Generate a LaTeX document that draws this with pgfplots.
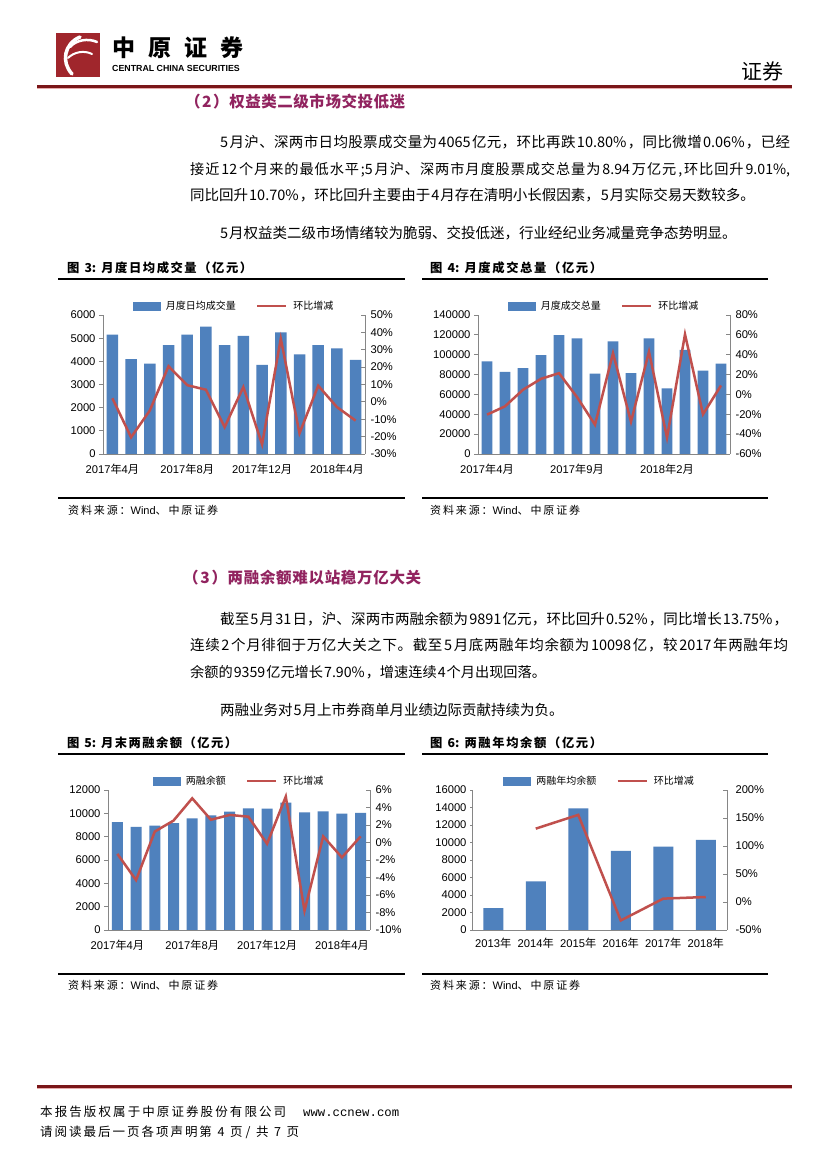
\documentclass[border=0pt]{standalone}
\usepackage{fontspec}
\setmainfont{Noto Sans CJK SC}
\newfontfamily\cjk{Noto Sans CJK SC}
\newfontfamily\lib{Liberation Sans}
\newfontfamily\libmono{Liberation Mono}
\usepackage{pgfplots}
\pgfplotsset{compat=1.18}
\definecolor{barblue}{RGB}{79,129,189}
\definecolor{linered}{RGB}{192,80,77}
\definecolor{axgrey}{RGB}{134,134,134}
\definecolor{hdrred}{RGB}{122,22,24}
\definecolor{hdrpink}{RGB}{230,170,170}
\definecolor{logored}{RGB}{160,38,44}
\definecolor{sectc}{RGB}{145,35,95}
\newXeTeXintercharclass\mycjkclass
\newcount\mycc
\mycc="4E00 \loop \XeTeXcharclass\mycc=\mycjkclass \advance\mycc 1 \ifnum\mycc<"A000 \repeat
\mycc="3000 \loop \XeTeXcharclass\mycc=\mycjkclass \advance\mycc 1 \ifnum\mycc<"3040 \repeat
\mycc="FF00 \loop \XeTeXcharclass\mycc=\mycjkclass \advance\mycc 1 \ifnum\mycc<"FFF0 \repeat
\XeTeXinterchartoks 0 \mycjkclass = {\hskip 1bp plus 1pt\relax}
\XeTeXinterchartoks \mycjkclass 0 = {\hskip 1bp plus 1pt\relax}
\XeTeXinterchartoks \mycjkclass \mycjkclass = {\hskip 0pt plus 1pt\relax}
% x, baseline y, width, font, text
\newcommand\jline[5]{\node[anchor=base west, inner sep=0pt] at (#1,#2) {#4\XeTeXinterchartokenstate=1 \makebox[#3bp][s]{#5}};}
\newcommand\nline[4]{\node[anchor=base west, inner sep=0pt] at (#1,#2) {#3\XeTeXinterchartokenstate=1 #4};}
\newcommand\fs[1]{\fontsize{#1bp}{#1bp}\selectfont}

\pgfplotsset{
  leftax/.style={anchor=south west, scale only axis,
    axis x line*=bottom, axis y line*=left,
    axis line style={-, axgrey, line width=0.8bp},
    xtick style={draw=none},
    ytick style={axgrey, line width=0.8bp},
    tick align=outside, major tick length=4bp,
    ticklabel style={font=\lib\fs{11.2}, text=black},
    scaled y ticks=false,
    xticklabel shift=3bp, yticklabel shift=0bp, ymin=0},
  rightax/.style={anchor=south west, scale only axis,
    axis y line*=right, axis x line=none,
    axis line style={-, axgrey, line width=0.8bp},
    ytick style={axgrey, line width=0.8bp},
    tick align=inside, major tick length=4bp,
    ticklabel style={font=\lib\fs{11.2}, text=black},
    scaled y ticks=false,
    yticklabel shift=2bp,
    legend columns=2,
    legend style={at={(0.5,1)}, anchor=south, yshift=2bp, draw=none, fill=none,
      font=\fs{10}, inner sep=0pt,
      /tikz/every odd column/.append style={column sep=4bp},
      /tikz/every even column/.append style={column sep=18bp}}},
  barleg/.style={legend image code/.code={\fill[barblue] (0bp,-4bp) rectangle (27bp,4bp);}},
  lineleg/.style={legend image code/.code={\draw[linered, line width=2.5bp] (0bp,0bp) -- (29bp,0bp);}}
}

\begin{document}
\begin{tikzpicture}
\fill[white] (0,0) rectangle (827bp,1169bp);

% ---------------- Figure 3 ----------------
\begin{axis}[leftax, at={(103bp,715bp)}, width=262bp, height=139bp,
  xmin=-0.5, xmax=13.5, ymax=6000,
  xtick={0,4,8,12},
  xticklabels={{2017{\cjk 年}4{\cjk 月}},{2017{\cjk 年}8{\cjk 月}},{2017{\cjk 年}12{\cjk 月}},{2018{\cjk 年}4{\cjk 月}}},
  ytick={0,1000,2000,3000,4000,5000,6000},
  yticklabels={0,1000,2000,3000,4000,5000,6000}]
\addplot[ybar, bar width=11.5bp, fill=barblue, draw=none] coordinates {
(0,5150)(1,4100)(2,3900)(3,4700)(4,5150)(5,5500)(6,4700)(7,5100)(8,3850)(9,5250)(10,4300)(11,4700)(12,4560)(13,4065)};
\end{axis}
\begin{axis}[rightax, at={(103bp,715bp)}, width=262bp, height=139bp,
  xmin=-0.5, xmax=13.5, ymin=-30, ymax=50,
  ytick={-30,-20,-10,0,10,20,30,40,50},
  yticklabels={-30\%,-20\%,-10\%,0\%,10\%,20\%,30\%,40\%,50\%}]
\addlegendimage{barleg}
\addlegendentry{月度日均成交量}
\addplot[linered, line width=2.5bp, mark=none, lineleg] coordinates {
(0,2.1)(1,-20.4)(2,-5.0)(3,20.5)(4,9.6)(5,7.0)(6,-14.5)(7,8.5)(8,-24.5)(9,36.4)(10,-18.1)(11,9.3)(12,-3.0)(13,-10.8)};
\addlegendentry{环比增减}
\end{axis}

% ---------------- Figure 4 ----------------
\begin{axis}[leftax, at={(478bp,715bp)}, width=252bp, height=139bp,
  xmin=-0.5, xmax=13.5, ymax=140000,
  xtick={0,5,10},
  xticklabels={{2017{\cjk 年}4{\cjk 月}},{2017{\cjk 年}9{\cjk 月}},{2018{\cjk 年}2{\cjk 月}}},
  ytick={0,20000,40000,60000,80000,100000,120000,140000},
  yticklabels={0,20000,40000,60000,80000,100000,120000,140000}]
\addplot[ybar, bar width=10.7bp, fill=barblue, draw=none] coordinates {
(0,93400)(1,82700)(2,86400)(3,99500)(4,119600)(5,116500)(6,81000)(7,113500)(8,81400)(9,116500)(10,66000)(11,104800)(12,84000)(13,91000)};
\end{axis}
\begin{axis}[rightax, at={(478bp,715bp)}, width=252bp, height=139bp,
  xmin=-0.5, xmax=13.5, ymin=-60, ymax=80,
  ytick={-60,-40,-20,0,20,40,60,80},
  yticklabels={-60\%,-40\%,-20\%,0\%,20\%,40\%,60\%,80\%}]
\addlegendimage{barleg}
\addlegendentry{月度成交总量}
\addplot[linered, line width=2.5bp, mark=none, lineleg] coordinates {
(0,-20.4)(1,-12)(2,4.7)(3,15.7)(4,21.4)(5,-2.6)(6,-30.5)(7,41.5)(8,-27.5)(9,43)(10,-43.5)(11,60.5)(12,-20)(13,9.0)};
\addlegendentry{环比增减}
\end{axis}

% ---------------- Figure 5 ----------------
\begin{axis}[leftax, at={(108bp,239bp)}, width=262bp, height=140bp,
  xmin=-0.5, xmax=13.5, ymax=12000,
  xtick={0,4,8,12},
  xticklabels={{2017{\cjk 年}4{\cjk 月}},{2017{\cjk 年}8{\cjk 月}},{2017{\cjk 年}12{\cjk 月}},{2018{\cjk 年}4{\cjk 月}}},
  ytick={0,2000,4000,6000,8000,10000,12000},
  yticklabels={0,2000,4000,6000,8000,10000,12000}]
\addplot[ybar, bar width=11bp, fill=barblue, draw=none] coordinates {
(0,9236)(1,8837)(2,8950)(3,9150)(4,9578)(5,9835)(6,10148)(7,10433)(8,10405)(9,10918)(10,10091)(11,10177)(12,9980)(13,10030)};
\end{axis}
\begin{axis}[rightax, at={(108bp,239bp)}, width=262bp, height=140bp,
  xmin=-0.5, xmax=13.5, ymin=-10, ymax=6,
  ytick={-10,-8,-6,-4,-2,0,2,4,6},
  yticklabels={-10\%,-8\%,-6\%,-4\%,-2\%,0\%,2\%,4\%,6\%}]
\addlegendimage{barleg}
\addlegendentry{两融余额}
\addplot[linered, line width=2.5bp, mark=none, lineleg] coordinates {
(0,-1.3)(1,-4.3)(2,1.25)(3,2.5)(4,5.05)(5,2.6)(6,3.15)(7,2.95)(8,-0.15)(9,5.25)(10,-7.8)(11,0.7)(12,-1.7)(13,0.7)};
\addlegendentry{环比增减}
\end{axis}

% ---------------- Figure 6 ----------------
\begin{axis}[leftax, at={(472bp,239bp)}, width=255bp, height=140bp,
  xmin=-0.5, xmax=5.5, ymax=16000,
  xtick={0,1,2,3,4,5},
  xticklabels={{2013{\cjk 年}},{2014{\cjk 年}},{2015{\cjk 年}},{2016{\cjk 年}},{2017{\cjk 年}},{2018{\cjk 年}}},
  ytick={0,2000,4000,6000,8000,10000,12000,14000,16000},
  yticklabels={0,2000,4000,6000,8000,10000,12000,14000,16000},
  major tick length=2bp]
\addplot[ybar, bar width=20bp, fill=barblue, draw=none] coordinates {
(0,2510)(1,5550)(2,13900)(3,9050)(4,9540)(5,10300)};
\end{axis}
\begin{axis}[rightax, at={(472bp,239bp)}, width=255bp, height=140bp,
  xmin=-0.5, xmax=5.5, ymin=-50, ymax=200,
  ytick={-50,0,50,100,150,200},
  yticklabels={-50\%,0\%,50\%,100\%,150\%,200\%}, yticklabel shift=5bp]
\addlegendimage{barleg}
\addlegendentry{两融年均余额}
\addplot[linered, line width=2.5bp, mark=none, lineleg] coordinates {
(1,131)(2,155.6)(3,-33)(4,6)(5,8.9)};
\addlegendentry{环比增减}
\end{axis}

% ---------------- page furniture (y measured downward) ----------------
\begin{scope}[x=1bp, y=-1bp, shift={(0,1169bp)}]
% logo
\fill[logored] (56,33) rectangle (100,77);
\draw[white, line width=3.5bp, line cap=round] (80,37) .. controls (64,44) and (61,62) .. (72,74);
\draw[white, line width=2.5bp, line cap=round] (70,47) .. controls (76,40) and (88,38) .. (97,42);
\draw[white, line width=2bp, line cap=round] (68,58) .. controls (74,52) and (84,50) .. (92,54);
\jline{112}{57}{131}{\bfseries\fs{23}}{中原证券}
\node[anchor=base west, inner sep=0pt] at (112,72) {\lib\bfseries\fs{8.8}CENTRAL CHINA SECURITIES};
\nline{741}{80}{\fs{21}}{证券}
\fill[hdrred] (37,85.5) rectangle (792,88.5);
\fill[hdrpink] (37,88.5) rectangle (792,89.5);

% section 2
\jline{185}{108}{220}{\bfseries\color{sectc}\fs{15.5}}{（2）权益类二级市场交投低迷}
\jline{220}{147.5}{570}{\fs{14.5}}{5月沪、深两市日均股票成交量为4065亿元，环比再跌10.80\%，同比微增0.06\%，已经}
\jline{190}{174.5}{600}{\fs{14.2}}{接近12个月来的最低水平;5月沪、深两市月度股票成交总量为8.94万亿元,环比回升9.01\%,}
\nline{190}{200.5}{\fs{14.5}}{同比回升10.70\%，环比回升主要由于4月存在清明小长假因素，5月实际交易天数较多。}
\nline{220}{238.5}{\fs{14.5}}{5月权益类二级市场情绪较为脆弱、交投低迷，行业经纪业务减量竞争态势明显。}

% figure frames
\jline{67}{273}{185}{\bfseries\fs{12.3}}{图 3:\ 月度日均成交量（亿元）}
\jline{430}{273}{172}{\bfseries\fs{12.3}}{图 4:\ 月度成交总量（亿元）}
\draw[black, line width=1.8bp] (58,279) -- (405,279);
\draw[black, line width=1.8bp] (422,279) -- (768,279);
\draw[black, line width=1.8bp] (58,498) -- (405,498);
\draw[black, line width=1.8bp] (422,498) -- (768,498);
\jline{68}{515}{150}{\fs{11}}{资料来源：{\lib Wind}、中原证券}
\jline{430}{515}{150}{\fs{11}}{资料来源：{\lib Wind}、中原证券}

% section 3
\jline{183}{584}{238}{\bfseries\color{sectc}\fs{15.5}}{（3）两融余额难以站稳万亿大关}
\jline{220}{624.5}{568}{\fs{14.5}}{截至5月31日，沪、深两市两融余额为9891亿元，环比回升0.52\%，同比增长13.75\%，}
\jline{190}{650.5}{598}{\fs{14.5}}{连续2个月徘徊于万亿大关之下。截至5月底两融年均余额为10098亿，较2017年两融年均}
\nline{190}{677.5}{\fs{14.2}}{余额的9359亿元增长7.90\%，增速连续4个月出现回落。}
\nline{220}{715.5}{\fs{14.5}}{两融业务对5月上市券商单月业绩边际贡献持续为负。}

\jline{67}{748}{170}{\bfseries\fs{12.3}}{图 5:\ 月末两融余额（亿元）}
\jline{430}{748}{172}{\bfseries\fs{12.3}}{图 6:\ 两融年均余额（亿元）}
\draw[black, line width=1.8bp] (58,754) -- (405,754);
\draw[black, line width=1.8bp] (422,754) -- (768,754);
\draw[black, line width=1.8bp] (58,974) -- (405,974);
\draw[black, line width=1.8bp] (422,974) -- (768,974);
\jline{68}{990}{150}{\fs{11}}{资料来源：{\lib Wind}、中原证券}
\jline{430}{990}{150}{\fs{11}}{资料来源：{\lib Wind}、中原证券}

% footer
\fill[hdrred] (37,1085.5) rectangle (792,1088.5);
\fill[hdrpink] (37,1088.5) rectangle (792,1089.5);
\jline{40}{1116.5}{246}{\fs{12.5}}{本报告版权属于中原证券股份有限公司}
\node[anchor=base west, inner sep=0pt] at (303,1116.5) {\libmono\fs{12.3}www.ccnew.com};
\jline{40}{1136.5}{259}{\fs{12.5}}{请阅读最后一页各项声明第 4 页/ 共 7 页}
\end{scope}
\end{tikzpicture}
\end{document}
